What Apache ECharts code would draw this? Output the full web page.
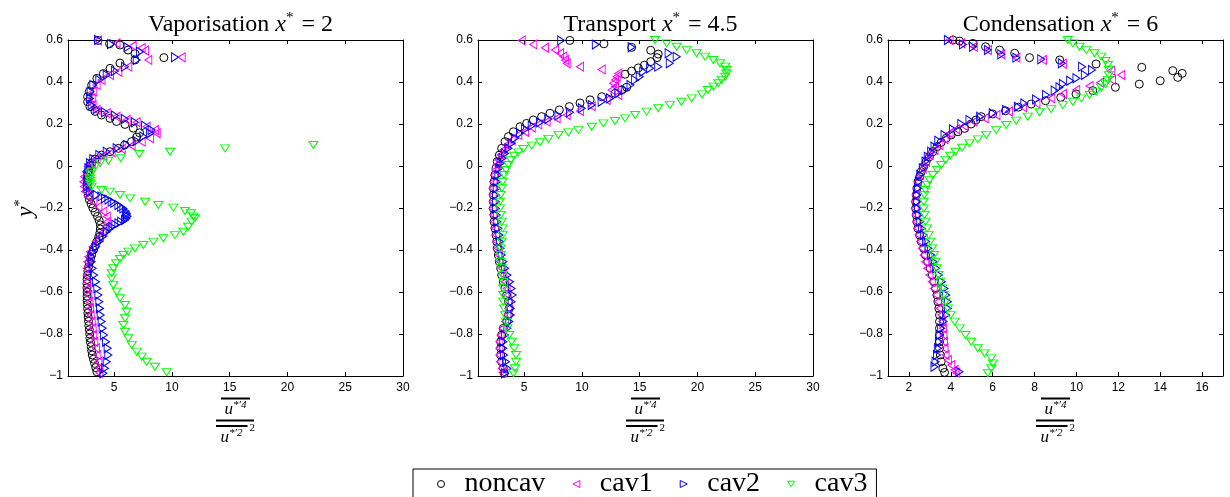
<!DOCTYPE html>
<html><head><meta charset="utf-8">
<script src="https://cdn.jsdelivr.net/npm/echarts@6/dist/echarts.min.js"></script>
<style>html,body{margin:0;padding:0;background:#fff}#c{width:1230px;height:497px}</style>
</head><body><div id="c"></div>
<script>
// ---- tick labels / categories ----
const seriesNames = ['noncav', 'cav1', 'cav2', 'cav3'];
const panelTitles = [['Vaporisation ', ' = 2'], ['Transport ', ' = 4.5'], ['Condensation ', ' = 6']];
const xRanges = [[1, 30], [1, 30], [1, 17]];
const xTicks = [[5, 10, 15, 20, 25, 30], [5, 10, 15, 20, 25, 30], [2, 4, 6, 8, 10, 12, 14, 16]];
const yRange = [-1, 0.6];

// ---- Vaporisation x*=2 ----
const vapNoncav = [[3.5,-0.98],[3.4,-0.96],[3.3,-0.94],[3.2,-0.92],[3.1,-0.9],[3.05,-0.88],[3.0,-0.86],[2.95,-0.84],[2.9,-0.82],[2.88,-0.8],[2.85,-0.78],[2.8,-0.76],[2.78,-0.74],[2.75,-0.72],[2.72,-0.7],[2.7,-0.68],[2.68,-0.66],[2.66,-0.64],[2.65,-0.62],[2.65,-0.6],[2.64,-0.58],[2.64,-0.56],[2.65,-0.54],[2.68,-0.52],[2.72,-0.5],[2.78,-0.48],[2.85,-0.46],[2.95,-0.44],[3.05,-0.42],[3.2,-0.4],[3.35,-0.38],[3.5,-0.36],[3.65,-0.34],[3.75,-0.32],[3.8,-0.3],[3.8,-0.28],[3.7,-0.26],[3.55,-0.24],[3.35,-0.22],[3.15,-0.2],[3.0,-0.18],[2.85,-0.16],[2.75,-0.14],[2.7,-0.12],[2.68,-0.1],[2.7,-0.08],[2.72,-0.06],[2.76,-0.04],[2.8,-0.02],[2.9,0.0],[3.05,0.015],[3.34,0.033],[3.9,0.052],[4.64,0.068],[5.36,0.084],[5.9,0.1],[6.5,0.116],[6.95,0.138],[7.2,0.158],[6.65,0.18],[5.93,0.198],[5.2,0.212],[4.64,0.227],[3.9,0.243],[3.34,0.26],[2.9,0.283],[2.7,0.306],[2.7,0.33],[2.85,0.355],[3.05,0.385],[3.5,0.417],[4.06,0.44],[4.64,0.465],[5.5,0.49],[6.8,0.505],[9.3,0.516],[6.8,0.535],[6.2,0.552],[5.5,0.576],[4.6,0.582],[3.6,0.598]];
const vapCav1 = [[3.71,-0.985],[3.71,-0.963],[3.63,-0.932],[3.54,-0.9],[3.42,-0.868],[3.28,-0.837],[3.19,-0.805],[3.13,-0.773],[3.05,-0.741],[2.96,-0.71],[2.9,-0.678],[2.85,-0.646],[2.76,-0.614],[2.67,-0.583],[2.62,-0.551],[2.62,-0.519],[2.62,-0.487],[2.67,-0.456],[2.76,-0.432],[2.9,-0.408],[3.13,-0.384],[3.42,-0.36],[3.77,-0.337],[4.06,-0.313],[4.29,-0.289],[4.4,-0.265],[4.35,-0.241],[4.06,-0.217],[3.63,-0.194],[3.19,-0.17],[2.76,-0.146],[2.47,-0.122],[2.39,-0.098],[2.33,-0.075],[2.39,-0.051],[2.56,-0.027],[2.76,-0.003],[3.05,0.013],[3.48,0.033],[4.06,0.049],[4.78,0.065],[5.65,0.081],[6.51,0.097],[7.38,0.116],[8.1,0.132],[8.68,0.156],[8.53,0.171],[7.81,0.187],[6.94,0.208],[6.08,0.219],[5.2,0.235],[4.35,0.251],[3.48,0.267],[3.13,0.29],[3.05,0.322],[3.19,0.354],[3.48,0.386],[3.9,0.41],[4.64,0.433],[5.36,0.449],[6.22,0.473],[7.95,0.505],[10.84,0.518],[7.67,0.55],[7.38,0.562],[6.6,0.572],[5.2,0.584],[3.6,0.598]];
const vapCav2 = [[4.06,-0.987],[4.2,-0.963],[4.35,-0.932],[4.49,-0.9],[4.43,-0.868],[4.29,-0.837],[4.12,-0.805],[4.0,-0.773],[3.91,-0.741],[3.83,-0.71],[3.77,-0.678],[3.71,-0.646],[3.63,-0.614],[3.54,-0.583],[3.42,-0.551],[3.25,-0.519],[3.13,-0.487],[3.05,-0.456],[3.05,-0.432],[3.19,-0.408],[3.42,-0.384],[3.71,-0.36],[4.0,-0.337],[4.35,-0.313],[4.6,-0.3],[4.78,-0.289],[5.1,-0.28],[5.36,-0.273],[5.6,-0.265],[5.93,-0.257],[6.05,-0.25],[6.14,-0.241],[6.1,-0.233],[6.08,-0.225],[6.0,-0.215],[5.79,-0.202],[5.6,-0.195],[5.36,-0.186],[5.0,-0.175],[4.78,-0.17],[4.5,-0.16],[4.2,-0.154],[3.9,-0.145],[3.48,-0.138],[2.9,-0.122],[2.67,-0.098],[2.62,-0.075],[2.67,-0.043],[2.76,-0.011],[2.9,0.013],[3.19,0.033],[3.71,0.052],[4.35,0.068],[5.21,0.084],[6.08,0.1],[6.95,0.119],[7.52,0.14],[8.1,0.156],[8.24,0.171],[7.67,0.192],[6.8,0.208],[5.93,0.224],[5.07,0.24],[4.2,0.256],[3.48,0.271],[3.05,0.29],[2.9,0.322],[2.96,0.354],[3.19,0.386],[3.71,0.41],[4.35,0.433],[5.07,0.452],[5.93,0.473],[6.95,0.505],[10.26,0.518],[7.23,0.544],[6.15,0.566],[4.72,0.58],[3.6,0.6]];
const vapCav3 = [[9.54,-0.982],[8.53,-0.956],[7.81,-0.932],[7.38,-0.908],[6.95,-0.884],[6.51,-0.852],[6.22,-0.82],[5.93,-0.789],[5.79,-0.757],[5.93,-0.725],[6.08,-0.694],[5.93,-0.662],[5.5,-0.63],[5.21,-0.598],[4.92,-0.567],[4.78,-0.535],[4.78,-0.511],[4.92,-0.487],[5.16,-0.463],[5.5,-0.443],[5.79,-0.424],[6.22,-0.408],[6.8,-0.392],[7.52,-0.376],[8.39,-0.36],[9.25,-0.344],[10.26,-0.329],[10.99,-0.313],[11.4,-0.289],[11.7,-0.265],[11.99,-0.249],[11.85,-0.24],[11.65,-0.225],[11.13,-0.214],[10.12,-0.198],[8.82,-0.186],[7.67,-0.17],[6.37,-0.154],[5.5,-0.138],[4.64,-0.122],[3.9,-0.114],[3.05,-0.098],[2.96,-0.083],[2.92,-0.07],[2.9,-0.059],[2.95,-0.04],[3.05,-0.027],[3.34,-0.003],[3.77,0.013],[4.49,0.025],[5.56,0.037],[7.17,0.057],[9.83,0.068],[14.6,0.084],[22.24,0.1]];

// ---- Transport x*=4.5 ----
const transNoncav = [[3.28,-0.987],[3.19,-0.963],[3.05,-0.932],[2.96,-0.9],[2.96,-0.868],[2.96,-0.837],[3.05,-0.805],[3.19,-0.773],[3.48,-0.741],[3.63,-0.71],[3.71,-0.678],[3.63,-0.646],[3.48,-0.614],[3.34,-0.583],[3.19,-0.551],[3.05,-0.519],[2.96,-0.487],[2.85,-0.456],[2.76,-0.424],[2.67,-0.392],[2.62,-0.36],[2.56,-0.329],[2.47,-0.297],[2.39,-0.265],[2.39,-0.233],[2.33,-0.202],[2.33,-0.17],[2.33,-0.138],[2.33,-0.106],[2.39,-0.075],[2.47,-0.043],[2.56,-0.011],[2.67,0.021],[2.85,0.052],[3.05,0.084],[3.34,0.116],[3.63,0.14],[4.06,0.163],[4.64,0.187],[5.21,0.203],[5.79,0.219],[6.51,0.235],[7.23,0.251],[8.04,0.267],[8.91,0.283],[9.83,0.3],[10.7,0.315],[11.71,0.33],[12.86,0.346],[13.44,0.362],[13.87,0.375],[13.73,0.437],[14.3,0.452],[14.88,0.467],[15.4,0.48],[15.95,0.497],[16.5,0.516],[16.6,0.533],[15.95,0.551],[14.3,0.565],[11.9,0.582],[8.95,0.598]];
const transCav1 = [[3.13,-0.983],[3.05,-0.963],[2.9,-0.932],[2.85,-0.9],[2.85,-0.868],[2.85,-0.837],[2.96,-0.805],[3.13,-0.773],[3.34,-0.741],[3.54,-0.71],[3.63,-0.678],[3.63,-0.646],[3.57,-0.614],[3.48,-0.583],[3.34,-0.551],[3.19,-0.519],[3.05,-0.487],[2.9,-0.456],[2.79,-0.424],[2.7,-0.392],[2.62,-0.36],[2.56,-0.329],[2.47,-0.297],[2.39,-0.265],[2.33,-0.233],[2.27,-0.202],[2.27,-0.17],[2.27,-0.138],[2.27,-0.106],[2.33,-0.075],[2.39,-0.043],[2.5,-0.019],[2.62,0.005],[2.76,0.029],[2.96,0.052],[3.19,0.076],[3.48,0.1],[3.91,0.124],[4.49,0.148],[5.07,0.163],[5.65,0.183],[6.22,0.198],[6.94,0.211],[7.81,0.227],[8.68,0.243],[9.83,0.262],[10.84,0.285],[12.14,0.314],[13.15,0.338],[12.57,0.362],[12.86,0.378],[12.7,0.394],[12.86,0.41],[13.0,0.425],[13.15,0.441],[11.71,0.46],[9.83,0.473],[8.68,0.489],[8.53,0.505],[8.39,0.521],[8.1,0.537],[7.67,0.552],[6.8,0.563],[5.79,0.579],[4.78,0.598]];
const transCav2 = [[3.34,-0.987],[3.54,-0.963],[3.42,-0.932],[3.25,-0.9],[3.19,-0.868],[3.19,-0.837],[3.34,-0.805],[3.54,-0.773],[3.71,-0.741],[3.83,-0.71],[3.83,-0.678],[3.91,-0.646],[4.0,-0.614],[3.91,-0.583],[3.77,-0.551],[3.54,-0.519],[3.34,-0.487],[3.19,-0.456],[3.05,-0.424],[2.96,-0.392],[2.9,-0.36],[2.85,-0.329],[2.76,-0.297],[2.67,-0.265],[2.62,-0.233],[2.56,-0.202],[2.56,-0.17],[2.56,-0.138],[2.62,-0.106],[2.67,-0.075],[2.76,-0.043],[2.85,-0.011],[2.96,0.013],[3.13,0.037],[3.34,0.06],[3.63,0.084],[3.91,0.108],[4.2,0.132],[4.64,0.156],[5.07,0.175],[5.65,0.192],[6.37,0.208],[7.09,0.224],[7.96,0.24],[8.97,0.256],[9.98,0.275],[10.84,0.29],[11.7,0.306],[12.43,0.322],[13.15,0.346],[13.7,0.362],[14.2,0.386],[14.6,0.41],[15.0,0.425],[15.3,0.449],[15.9,0.465],[16.6,0.473],[17.6,0.489],[18.2,0.52],[17.5,0.537],[14.3,0.565],[11.2,0.578],[8.2,0.598]];
const transCav3 = [[4.06,-0.987],[4.2,-0.963],[4.29,-0.932],[4.29,-0.9],[4.12,-0.868],[3.91,-0.837],[3.71,-0.805],[3.54,-0.773],[3.42,-0.741],[3.34,-0.71],[3.25,-0.678],[3.19,-0.646],[3.19,-0.614],[3.19,-0.583],[3.19,-0.551],[3.13,-0.519],[3.05,-0.487],[2.96,-0.456],[2.96,-0.424],[2.96,-0.392],[3.05,-0.36],[3.13,-0.329],[3.13,-0.297],[3.05,-0.265],[2.96,-0.233],[2.9,-0.202],[2.9,-0.17],[2.96,-0.138],[3.05,-0.106],[3.13,-0.075],[3.25,-0.043],[3.42,-0.019],[3.63,0.005],[3.83,0.029],[4.12,0.049],[4.49,0.065],[4.92,0.081],[5.65,0.097],[6.37,0.113],[7.09,0.129],[7.96,0.148],[8.82,0.16],[9.69,0.171],[10.84,0.187],[11.85,0.203],[12.86,0.214],[13.73,0.227],[14.6,0.243],[15.6,0.259],[16.6,0.275],[17.6,0.29],[18.6,0.306],[19.5,0.322],[20.4,0.341],[20.9,0.362],[21.4,0.378],[21.8,0.394],[22.1,0.41],[22.4,0.425],[22.5,0.441],[22.5,0.457],[22.4,0.473],[21.95,0.489],[21.37,0.505],[20.65,0.521],[19.93,0.537],[19.06,0.552],[18.2,0.568],[17.33,0.584],[16.32,0.6]];

// ---- Condensation x*=6 ----
const condNoncav = [[3.7,-0.983],[3.62,-0.963],[3.54,-0.932],[3.5,-0.9],[3.46,-0.868],[3.46,-0.837],[3.46,-0.805],[3.46,-0.773],[3.46,-0.741],[3.46,-0.71],[3.43,-0.678],[3.38,-0.646],[3.34,-0.614],[3.27,-0.583],[3.19,-0.551],[3.11,-0.519],[3.01,-0.487],[2.9,-0.456],[2.79,-0.424],[2.7,-0.392],[2.59,-0.36],[2.51,-0.329],[2.43,-0.297],[2.38,-0.265],[2.35,-0.233],[2.32,-0.202],[2.32,-0.17],[2.35,-0.138],[2.38,-0.106],[2.43,-0.075],[2.51,-0.051],[2.59,-0.027],[2.7,-0.003],[2.82,0.021],[2.98,0.044],[3.14,0.068],[3.34,0.092],[3.54,0.113],[3.78,0.132],[4.02,0.148],[4.34,0.163],[4.66,0.179],[4.97,0.2],[5.2,0.219],[5.45,0.235],[6.0,0.248],[6.61,0.263],[7.23,0.28],[7.84,0.295],[8.52,0.311],[9.25,0.327],[9.98,0.343],[10.78,0.359],[11.86,0.375],[13.0,0.39],[14.0,0.406],[14.84,0.422],[15.05,0.441],[14.6,0.454],[13.12,0.47],[10.94,0.486],[9.2,0.505],[7.76,0.516],[7.05,0.537],[6.33,0.552],[5.66,0.568],[5.05,0.584],[4.42,0.595],[4.1,0.6]];
const condCav1 = [[4.26,-0.984],[4.18,-0.971],[4.02,-0.948],[3.86,-0.924],[3.75,-0.9],[3.7,-0.868],[3.67,-0.837],[3.65,-0.805],[3.62,-0.773],[3.59,-0.741],[3.54,-0.71],[3.46,-0.678],[3.38,-0.646],[3.3,-0.614],[3.19,-0.583],[3.09,-0.551],[2.98,-0.519],[2.87,-0.487],[2.78,-0.456],[2.7,-0.424],[2.62,-0.392],[2.54,-0.36],[2.46,-0.329],[2.39,-0.297],[2.35,-0.265],[2.32,-0.233],[2.28,-0.202],[2.28,-0.17],[2.32,-0.138],[2.35,-0.106],[2.43,-0.075],[2.54,-0.043],[2.66,-0.011],[2.82,0.021],[2.98,0.052],[3.22,0.076],[3.46,0.1],[3.7,0.128],[3.94,0.156],[4.26,0.175],[4.65,0.19],[5.09,0.211],[5.62,0.227],[6.18,0.243],[6.78,0.259],[7.45,0.28],[8.09,0.298],[8.8,0.322],[9.36,0.343],[9.99,0.362],[10.63,0.381],[11.13,0.397],[11.7,0.41],[12.14,0.433],[11.66,0.454],[9.35,0.487],[8.4,0.505],[7.13,0.516],[6.41,0.532],[5.77,0.552],[5.1,0.568],[4.5,0.584],[3.94,0.6]];
const condCav2 = [[4.41,-0.98],[3.22,-0.956],[3.27,-0.932],[3.34,-0.9],[3.38,-0.868],[3.43,-0.837],[3.46,-0.805],[3.54,-0.773],[3.65,-0.741],[3.78,-0.71],[3.86,-0.678],[3.86,-0.646],[3.78,-0.614],[3.7,-0.583],[3.57,-0.551],[3.43,-0.519],[3.3,-0.487],[3.17,-0.456],[3.06,-0.424],[2.93,-0.392],[2.82,-0.36],[2.71,-0.329],[2.62,-0.297],[2.54,-0.265],[2.47,-0.233],[2.43,-0.202],[2.39,-0.17],[2.39,-0.138],[2.43,-0.106],[2.47,-0.075],[2.54,-0.043],[2.66,-0.011],[2.79,0.021],[2.9,0.044],[3.06,0.068],[3.22,0.092],[3.4,0.12],[3.7,0.148],[4.1,0.175],[4.5,0.2],[4.89,0.219],[5.4,0.235],[6.0,0.251],[6.64,0.267],[7.2,0.282],[7.51,0.298],[8.07,0.317],[8.55,0.338],[8.96,0.359],[9.19,0.375],[9.35,0.39],[9.7,0.406],[10.0,0.418],[10.4,0.433],[10.74,0.457],[10.27,0.473],[9.3,0.489],[8.32,0.508],[7.13,0.516],[6.41,0.532],[5.77,0.552],[5.06,0.568],[4.58,0.579],[3.86,0.6]];
const condCav3 = [[5.77,-0.987],[5.93,-0.963],[6.01,-0.94],[5.93,-0.916],[5.61,-0.892],[5.29,-0.868],[4.97,-0.837],[4.7,-0.805],[4.42,-0.773],[4.18,-0.741],[3.99,-0.71],[3.86,-0.678],[3.75,-0.646],[3.67,-0.614],[3.59,-0.583],[3.49,-0.551],[3.41,-0.519],[3.33,-0.487],[3.27,-0.456],[3.19,-0.424],[3.11,-0.392],[3.02,-0.36],[2.94,-0.329],[2.86,-0.297],[2.79,-0.265],[2.74,-0.233],[2.71,-0.202],[2.71,-0.17],[2.74,-0.138],[2.79,-0.114],[2.87,-0.09],[2.98,-0.067],[3.14,-0.043],[3.34,-0.019],[3.54,0.005],[3.75,0.029],[3.97,0.049],[4.22,0.068],[4.54,0.087],[4.89,0.108],[5.29,0.127],[5.69,0.148],[6.17,0.171],[6.65,0.195],[7.12,0.216],[7.68,0.235],[8.24,0.256],[8.79,0.271],[9.35,0.29],[9.83,0.306],[10.23,0.322],[10.63,0.338],[10.94,0.354],[11.18,0.373],[11.39,0.389],[11.5,0.41],[11.55,0.433],[11.55,0.457],[11.5,0.481],[11.39,0.5],[11.18,0.521],[10.86,0.537],[10.47,0.552],[10.15,0.568],[9.83,0.584],[9.59,0.6]];

const panelData = [
  [vapNoncav, vapCav1, vapCav2, vapCav3],
  [transNoncav, transCav1, transCav2, transCav3],
  [condNoncav, condCav1, condCav2, condCav3]
];

// ---- styles ----
const SYM = {
  noncav: { symbol: 'circle', size: 8, color: '#000000' },
  cav1: { symbol: 'path://M10,0 L0,5 L10,10 Z', size: [7, 9], color: '#ff00ff' },
  cav2: { symbol: 'path://M0,0 L10,5 L0,10 Z', size: [7, 9], color: '#0000ff' },
  cav3: { symbol: 'path://M0,0 L10,0 L5,8 Z', size: [9, 7], color: '#00ff00' }
};
const GL = [68, 478, 888], GT = 40, GW = 335, GH = 336;
const tickFont = { color: '#000', fontFamily: 'Liberation Sans, Arial, sans-serif', fontSize: 12 };
const axLine = { show: true, onZero: false, lineStyle: { color: '#000', width: 1 } };
const serif = 'Liberation Serif, serif';

const grids = [], xAxes = [], yAxes = [], series = [], titles = [], graphics = [];
for (let i = 0; i < 3; i++) {
  grids.push({ left: GL[i], top: GT, width: GW, height: GH, containLabel: false });
  const xb = { gridIndex: i, type: 'value', min: xRanges[i][0], max: xRanges[i][1], position: 'bottom',
    axisLine: axLine, splitLine: { show: false },
    axisTick: { show: true, inside: true, length: 4, customValues: xTicks[i], lineStyle: { color: '#000' } },
    axisLabel: Object.assign({ show: true, margin: 6, customValues: xTicks[i] }, tickFont) };
  const xt = { gridIndex: i, type: 'value', min: xRanges[i][0], max: xRanges[i][1], position: 'top',
    axisLine: axLine, splitLine: { show: false },
    axisTick: { show: true, inside: true, length: 4, customValues: xTicks[i], lineStyle: { color: '#000' } },
    axisLabel: { show: false } };
  xAxes.push(xb, xt);
  const yl = { gridIndex: i, type: 'value', min: yRange[0], max: yRange[1], interval: 0.2, position: 'left',
    axisLine: axLine, splitLine: { show: false },
    axisTick: { show: true, inside: true, length: 4, lineStyle: { color: '#000' } },
    axisLabel: Object.assign({ show: true, margin: 5,
      formatter: v => String(Math.round(v * 10) / 10).replace('-', '\u2212') }, tickFont) };
  const yr = { gridIndex: i, type: 'value', min: yRange[0], max: yRange[1], interval: 0.2, position: 'right',
    axisLine: axLine, splitLine: { show: false },
    axisTick: { show: true, inside: true, length: 4, lineStyle: { color: '#000' } },
    axisLabel: { show: false } };
  yAxes.push(yl, yr);
  seriesNames.forEach((nm, k) => {
    const s = SYM[nm];
    series.push({ type: 'scatter', name: nm, data: panelData[i][k], xAxisIndex: 2 * i, yAxisIndex: 2 * i,
      symbol: s.symbol, symbolSize: s.size, clip: false, silent: true, animation: false,
      itemStyle: { color: 'rgba(0,0,0,0)', borderColor: s.color, borderWidth: 1, opacity: 1 } });
  });
  const cx = GL[i] + GW / 2;
  titles.push({ text: '{n|' + panelTitles[i][0] + '}{i|x}{s|*}{n|' + panelTitles[i][1] + '}',
    left: cx, top: 6, textAlign: 'center',
    textStyle: { fontWeight: 'normal', rich: {
      n: { fontFamily: serif, fontWeight: 'normal', fontSize: 24, color: '#000', lineHeight: 26, verticalAlign: 'bottom' },
      i: { fontFamily: serif, fontWeight: 'normal', fontStyle: 'italic', fontSize: 24, color: '#000', lineHeight: 26, verticalAlign: 'bottom' },
      s: { fontFamily: serif, fontWeight: 'normal', fontSize: 15, color: '#000', lineHeight: 26, verticalAlign: 'top', padding: [0, 2, 0, 0] } } } });
  // x axis fraction label
  const lw = 2;
  const fr = { u: { fontFamily: serif, fontStyle: 'italic', fontSize: 17, fill: '#000', lineHeight: 18, verticalAlign: 'bottom' },
               s: { fontFamily: serif, fontStyle: 'italic', fontSize: 11, fill: '#000', lineHeight: 18, verticalAlign: 'top' } };
  graphics.push(
    { type: 'line', shape: { x1: cx - 14.5, y1: 398.5, x2: cx + 14.5, y2: 398.5 }, style: { stroke: '#000', lineWidth: lw } },
    { type: 'text', x: cx, y: 409, style: { text: '{u|u}{s|*\u20324}', align: 'center', verticalAlign: 'middle', rich: fr } },
    { type: 'line', shape: { x1: cx - 19.5, y1: 420.5, x2: cx + 18.5, y2: 420.5 }, style: { stroke: '#000', lineWidth: lw } },
    { type: 'line', shape: { x1: cx - 19.5, y1: 426, x2: cx + 12, y2: 426 }, style: { stroke: '#000', lineWidth: lw } },
    { type: 'text', x: cx - 4, y: 437, style: { text: '{u|u}{s|*\u20322}', align: 'center', verticalAlign: 'middle', rich: fr } },
    { type: 'text', x: cx + 14, y: 428, style: { text: '2', align: 'left', verticalAlign: 'middle',
      fontFamily: serif, fontSize: 11, fill: '#000' } }
  );
}
// y-axis label
graphics.push({ type: 'text', x: 25, y: 208, rotation: Math.PI / 2,
  style: { text: '{i|y}{s|*}', align: 'center', verticalAlign: 'middle',
    rich: { i: { fontFamily: serif, fontStyle: 'italic', fontSize: 23, fill: '#000', lineHeight: 24, verticalAlign: 'bottom' },
            s: { fontFamily: serif, fontSize: 15, fill: '#000', lineHeight: 24, verticalAlign: 'top' } } } });

const legendData = seriesNames.map(nm => ({ name: nm, icon: SYM[nm].symbol,
  itemStyle: { color: 'rgba(0,0,0,0)', borderColor: SYM[nm].color, borderWidth: 1 } }));

const chart = echarts.init(document.getElementById('c'), null, { renderer: 'canvas' });
chart.setOption({
  animation: false,
  backgroundColor: '#fff',
  title: titles,
  grid: grids,
  xAxis: xAxes,
  yAxis: yAxes,
  series: series,
  graphic: graphics,
  legend: { data: legendData, left: 413, top: 469, orient: 'horizontal', selectedMode: false,
    padding: [1, 9, 30, 24], borderColor: '#000', borderWidth: 1, itemGap: 27, itemWidth: 7, itemHeight: 7,
    textStyle: { fontFamily: serif, fontSize: 28, color: '#000', lineHeight: 22, padding: [0, 0, 0, 15] } }
});
</script></body></html>
